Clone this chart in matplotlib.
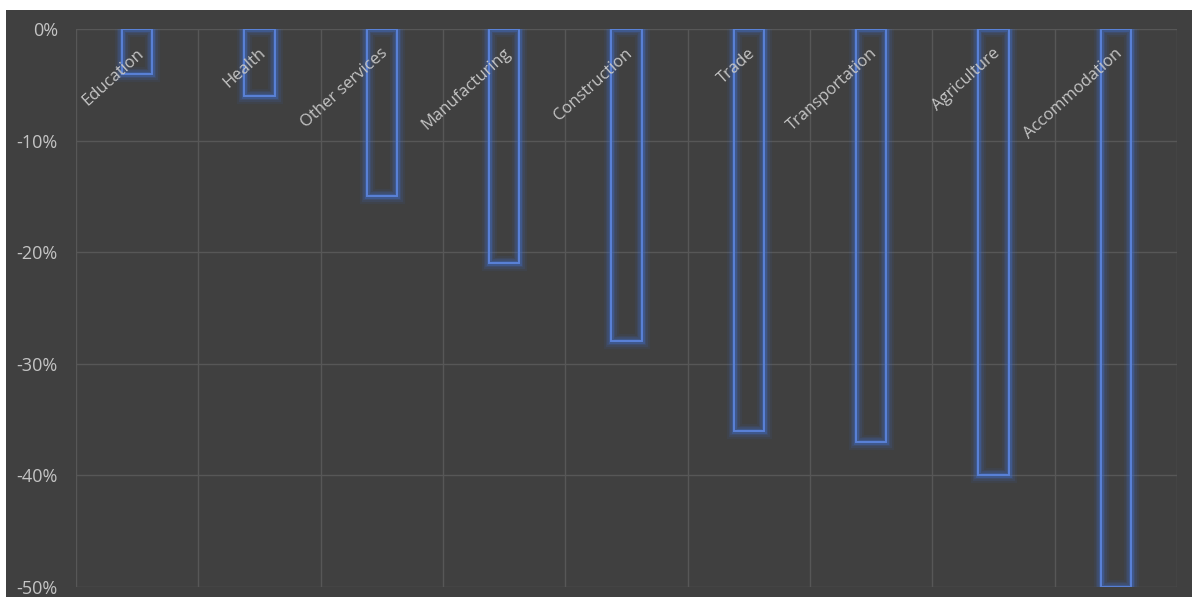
import matplotlib
matplotlib.use("Agg")
import matplotlib.pyplot as plt
from matplotlib.patches import Rectangle
from matplotlib.ticker import FuncFormatter, MultipleLocator
import numpy as np

plt.rcParams['font.family'] = ['Open Sans', 'DejaVu Sans']

categories = ['Education', 'Health', 'Other services', 'Manufacturing', 'Construction',
              'Trade', 'Transportation', 'Agriculture', 'Accommodation']
change = [-4, -6, -15, -21, -28, -36, -37, -40, -50]

BG = '#404040'
GRID = '#575757'
TEXT = '#c4c4c4'
BLUE = '#3f6fd0'

fig = plt.figure(figsize=(11.92, 5.97), dpi=100, facecolor='white')
# dark chart area with a thin white margin at top and left
fig.patches.append(Rectangle((6 / 1192, 0), 1 - 6 / 1192, 1 - 10 / 597,
                             transform=fig.transFigure, facecolor=BG,
                             edgecolor='none', zorder=-10))

ax = fig.add_axes([76 / 1192, 1 - 587 / 597, (1177 - 76) / 1192, (587 - 29) / 597])
ax.set_facecolor(BG)

x = np.arange(len(categories))
width = 0.25

# glow around the bar outlines
for lw, a in [(11, 0.08), (8, 0.12), (5.5, 0.18), (3.5, 0.3)]:
    ax.bar(x, change, width=width, fill=False, edgecolor=BLUE, linewidth=lw,
           alpha=a, zorder=3)
ax.bar(x, change, width=width, fill=False, edgecolor='#5a82d8', linewidth=1.4, zorder=4)

ax.set_xlim(-0.5, len(categories) - 0.5)
ax.set_ylim(-50, 0)
ax.yaxis.set_major_locator(MultipleLocator(10))
ax.yaxis.set_major_formatter(FuncFormatter(lambda v, p: f'{int(round(v))}%'))
ax.set_xticks(np.arange(-0.5, len(categories), 1))
ax.set_xticklabels([])
ax.grid(True, color=GRID, linewidth=1.0, zorder=1)
ax.set_axisbelow(True)
# no line along the bottom edge
ax.get_ygridlines()[0].set_visible(False)
for s in ax.spines.values():
    s.set_visible(False)
ax.tick_params(axis='both', length=0)
ax.tick_params(axis='y', colors=TEXT, labelsize=13, pad=13)

# category labels near the top, rotated
for xi, name in zip(x, categories):
    ax.annotate(name, xy=(xi, 0), xytext=(3, -16), textcoords='offset points',
                rotation=42, rotation_mode='anchor', ha='right', va='center',
                color=TEXT, fontsize=12, zorder=5)

fig.savefig('out.png', dpi=100, facecolor='white')
